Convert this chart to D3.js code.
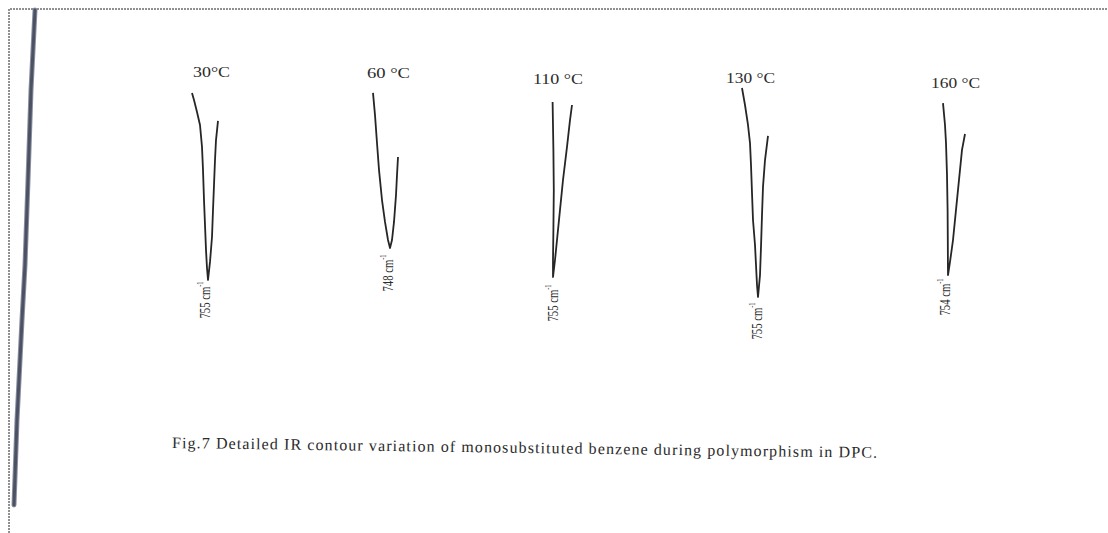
<!DOCTYPE html>
<html>
<head>
<meta charset="utf-8">
<title>Fig.7 IR contour variation</title>
<script src="https://d3js.org/d3.v7.min.js"></script>
<style>
  body { margin: 0; background: #fff; }
  svg { display: block; }
  text { font-family: "Liberation Serif", "Times New Roman", "DejaVu Serif", serif; fill: #2b2b2b; }
</style>
</head>
<body>
<svg id="chart" width="1108" height="533"></svg>
<script>
// temperatures and band minima (cm-1)
const temps = ["30°C", "60 °C", "110 °C", "130 °C", "160 °C"];
const minima = [755, 748, 755, 755, 754];

// contours: [wavenumber cm-1, transmittance (arb. %)]
const contour30 = [[763,96.3],[762,93.0],[760.5,87.4],[759,81.4],[758,71.2],[757.5,60.5],[757,46.5],[756.5,34.9],[756,23.3],[755.5,14.9],[755,9.3],
                   [754,17.7],[753,29.3],[752.5,41.9],[752,53.5],[751.5,65.1],[751,74.4],[750,83.3]];
const contour60 = [[756.5,96.3],[755.5,86.0],[754.5,73.0],[753.5,60.5],[752,46.5],[750.5,36.3],[749,27.9],[748,24.2],
                   [747,27.9],[746,36.3],[745,48.8],[744.5,58.1],[744,66.5]];
const contour110 = [[755.2,92.1],[754.8,69.8],[754.6,51.2],[754.8,32.6],[755,18.6],[755,10.7],
                    [754,18.6],[753,27.9],[751.5,41.9],[750,55.8],[748,71.2],[746.5,83.7],[745.5,90.7]];
const contour130 = [[763,98.6],[761.5,90.7],[760,81.4],[759,73.0],[758.5,62.8],[758,49.8],[757.5,37.2],[756.5,25.6],[756,16.3],[755.5,7.0],[755,1.4],
                    [754,11.6],[753.5,24.7],[753,39.5],[752.5,52.6],[751.5,65.1],[750,76.3]];
const contour160 = [[756.5,91.6],[755.5,81.4],[755,73.0],[754.5,58.1],[754.2,41.9],[754.1,27.9],[754.05,18.6],[754,11.6],
                    [753,17.7],[751.5,27.9],[750,41.9],[749,51.2],[748,60.5],[747,69.8],[745.5,77.2]];
const contours = [contour30, contour60, contour110, contour130, contour160];

const caption = "Fig.7  Detailed IR contour variation of monosubstituted benzene during polymorphism in DPC.";

// layout (pixel placement of each panel on the scanned page)
const panelX = [208, 390, 553, 758, 948];
const tempPos = [[211.5,77,37],[388.5,78,43],[558,84,50],[750.5,83,49],[955.5,88,49]];
const bandPos = [[205,300],[388,273],[553,303],[757,321],[945,297]];

const svg = d3.select("#chart");
const W = 1108, H = 533;

svg.append("rect").attr("width", W).attr("height", H).attr("fill", "#fff");

// dotted page border (top + left only)
svg.append("path")
    .attr("d", `M9,${H} L9,9 L${W},9`)
    .attr("fill", "none")
    .attr("stroke", "#222")
    .attr("stroke-width", 1)
    .attr("stroke-dasharray", "2,1");

// dark binding edge of the scan
const edge = [[35,10],[31,90],[28,180],[25,265],[22,320],[17,420],[14,505]];
svg.append("path")
    .attr("d", d3.line()(edge))
    .attr("fill", "none")
    .attr("stroke", "#8a90a0")
    .attr("stroke-width", 5)
    .attr("stroke-linecap", "round");
svg.append("path")
    .attr("d", d3.line()(edge))
    .attr("fill", "none")
    .attr("stroke", "#4c5264")
    .attr("stroke-width", 3)
    .attr("stroke-linecap", "round");

const y = d3.scaleLinear().domain([0, 100]).range([300, 85]);

contours.forEach((pts, i) => {
    const wmin = minima[i];
    // IR convention: wavenumber decreasing to the right
    const x = d3.scaleLinear().domain([wmin, wmin - 1]).range([panelX[i], panelX[i] + 2]);
    const line = d3.line().x(d => x(d[0])).y(d => y(d[1]));

    svg.append("path")
        .datum(pts)
        .attr("d", line)
        .attr("fill", "none")
        .attr("stroke", "#262626")
        .attr("stroke-width", 1.8)
        .attr("stroke-linejoin", "round");

    svg.append("text")
        .attr("x", tempPos[i][0])
        .attr("y", tempPos[i][1])
        .attr("text-anchor", "middle")
        .attr("font-size", 14)
        .attr("textLength", tempPos[i][2])
        .attr("lengthAdjust", "spacingAndGlyphs")
        .text(temps[i]);

    const lab = svg.append("text")
        .attr("transform", `translate(${bandPos[i][0] + 5},${bandPos[i][1]}) rotate(-90)`)
        .attr("text-anchor", "middle")
        .attr("font-size", 15)
        .attr("textLength", 37)
        .attr("lengthAdjust", "spacingAndGlyphs");
    lab.append("tspan").text(wmin + " cm");
    lab.append("tspan").attr("font-size", 9).attr("dy", -7).text("-1");
});

// caption, slightly tilted as on the scan
svg.append("text")
    .attr("transform", "translate(172,448) rotate(0.8)")
    .attr("font-size", 16)
    .attr("textLength", 705)
    .attr("lengthAdjust", "spacing")
    .text(caption);
</script>
</body>
</html>
